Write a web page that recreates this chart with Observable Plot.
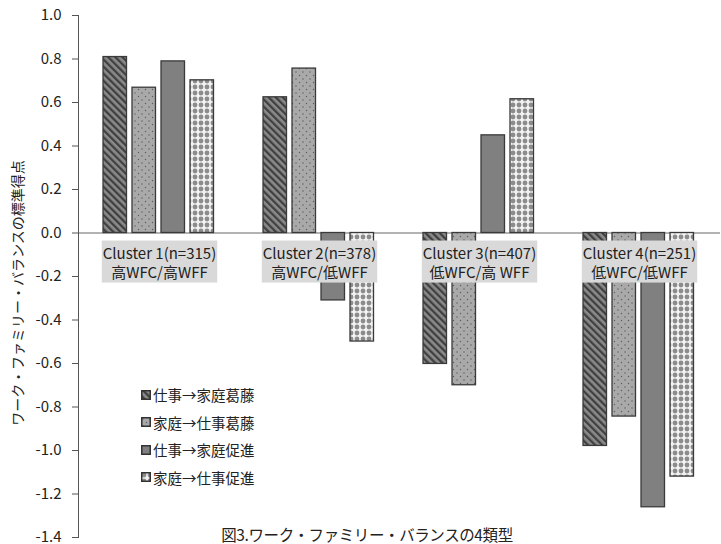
<!DOCTYPE html>
<html><head><meta charset="utf-8">
<script src="https://cdn.jsdelivr.net/npm/d3@7"></script>
<script src="https://cdn.jsdelivr.net/npm/@observablehq/plot@0.6"></script>
<style>
body{margin:0;background:#fff;font-family:"Noto Sans CJK JP",sans-serif;color:#222}
#wrap{position:relative;width:721px;height:544px;overflow:hidden}
#legend{position:absolute;left:141px;top:381px;font-size:14.5px;line-height:27.5px}
#legend .row{display:flex;align-items:center;height:27.5px}
#legend svg{margin-right:2px}
#title{position:absolute;left:367px;top:525px;transform:translateX(-50%);font-size:15.5px;letter-spacing:-0.4px;white-space:nowrap;line-height:19px}
#ylabel{position:absolute;left:17px;top:293px;transform:translate(-50%,-50%) rotate(-90deg);font-size:14px;white-space:nowrap}
</style></head><body>
<svg width="0" height="0" style="position:absolute">
<defs>
<pattern id="p0" patternUnits="userSpaceOnUse" width="5" height="5" patternTransform="rotate(-45)">
<rect width="5" height="5" fill="#8a8a8a"/><line x1="1.2" y1="0" x2="1.2" y2="5" stroke="#3c3c3c" stroke-width="2.2"/></pattern>
<pattern id="p1" patternUnits="userSpaceOnUse" width="7" height="7">
<rect width="7" height="7" fill="#a9a9a9"/><circle cx="2" cy="2" r="0.7" fill="#5a5a5a"/><circle cx="5.5" cy="5.5" r="0.7" fill="#5a5a5a"/></pattern>
<pattern id="p2" patternUnits="userSpaceOnUse" width="6" height="6">
<rect width="6" height="6" fill="#808080"/></pattern>
<pattern id="p3" patternUnits="userSpaceOnUse" width="6" height="6">
<rect width="6" height="6" fill="#f2f2f2"/><circle cx="3" cy="3" r="2.4" fill="#8c8c8c"/></pattern>
</defs></svg>
<div id="wrap">
<div id="ylabel">ワーク・ファミリー・バランスの標準得点</div>
<div id="legend"></div>
<div id="title">図3.ワーク・ファミリー・バランスの4類型</div>
</div>
<script>
const clusterNames = ["Cluster 1(n=315)", "Cluster 2(n=378)", "Cluster 3(n=407)", "Cluster 4(n=251)"];
const clusterTypes = ["高WFC/高WFF", "高WFC/低WFF", "低WFC/高 WFF", "低WFC/低WFF"];
const seriesNames = ["仕事→家庭葛藤", "家庭→仕事葛藤", "仕事→家庭促進", "家庭→仕事促進"];
const workFamilyConflict = [0.809, 0.624, -0.602, -0.979];
const familyWorkConflict = [0.668, 0.756, -0.700, -0.844];
const workFamilyFacilitation = [0.789, -0.310, 0.449, -1.261];
const familyWorkFacilitation = [0.702, -0.499, 0.615, -1.120];
const yTicks = [1.0, 0.8, 0.6, 0.4, 0.2, 0.0, -0.2, -0.4, -0.6, -0.8, -1.0, -1.2, -1.4];

const seriesValues = [workFamilyConflict, familyWorkConflict, workFamilyFacilitation, familyWorkFacilitation];
const data = [];
seriesNames.forEach((s, i) => clusterNames.forEach((c, j) => data.push({series: s, si: i, cluster: c, value: seriesValues[i][j]})));
const labels = clusterNames.map((c, j) => ({cluster: c, text: c + "\n" + clusterTypes[j]}));

const W = 721, H = 544, ML = 78, MR = 1;
const band = (W - ML - MR) / clusterNames.length;
const barW = 24, step = 29, lead = 24;

const barMarks = seriesNames.map((s, i) => Plot.barY(data.filter(d => d.si === i), {
  x: "cluster", y: "value", fill: `url(#p${i})`, stroke: "#3a3a3a", strokeWidth: 1.3,
  insetLeft: lead + step * i, insetRight: band - lead - step * i - barW
}));

const chart = Plot.plot({
  width: W, height: H,
  marginLeft: ML, marginRight: MR, marginTop: 15, marginBottom: 7,
  style: {fontFamily: '"Noto Sans CJK JP", sans-serif', color: "#222", background: "transparent"},
  x: {type: "band", domain: clusterNames, padding: 0, axis: null},
  y: {domain: [-1.4, 1.0], axis: null},
  marks: [
    Plot.ruleY([0], {stroke: "#9a9a9a", strokeWidth: 1.3}),
    Plot.axisY({ticks: yTicks, tickFormat: d => d.toFixed(1), tickSize: 6, tickPadding: 11, fontSize: 15, label: null, stroke: "#555"}),
    Plot.frame({anchor: "left", stroke: "#555"}),
    ...barMarks,
    Plot.text(labels, {x: "cluster", y: 0, text: "text", lineAnchor: "top", dy: 12, fontSize: 15, lineHeight: 1.27, fill: "#222"})
  ]
});
const wrap = document.getElementById("wrap");
wrap.insertBefore(chart, wrap.firstChild);

// grey boxes behind cluster labels
chart.querySelectorAll('g[aria-label="text"] text').forEach(t => {
  const b = t.getBBox();
  const r = document.createElementNS("http://www.w3.org/2000/svg", "rect");
  r.setAttribute("x", b.x - 1); r.setAttribute("y", b.y - 1);
  r.setAttribute("width", b.width + 2); r.setAttribute("height", b.height + 2);
  r.setAttribute("fill", "#d9d9d9");
  const tr = t.getAttribute("transform");
  if (tr) r.setAttribute("transform", tr);
  t.parentNode.insertBefore(r, t);
});

// legend
const leg = document.getElementById("legend");
seriesNames.forEach((s, i) => {
  const row = document.createElement("div");
  row.className = "row";
  row.innerHTML = `<svg width="10" height="10"><rect x="0.75" y="0.75" width="8.5" height="8.5" fill="url(#p${i})" stroke="#333" stroke-width="1.5"/></svg><span>${s}</span>`;
  leg.appendChild(row);
});
</script>
</body></html>
